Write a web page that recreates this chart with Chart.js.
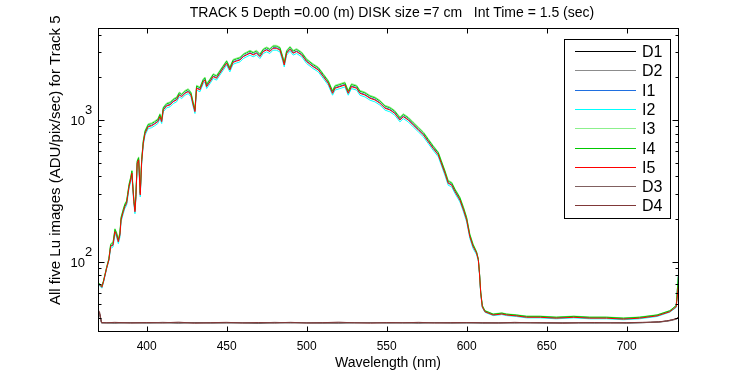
<!DOCTYPE html>
<html>
<head>
<meta charset="utf-8">
<script src="https://cdn.jsdelivr.net/npm/chart.js@4"></script>
<style>
  html, body { margin: 0; padding: 0; background: #fff; }
  #wrap { width: 750px; height: 375px; }
</style>
</head>
<body>
<div id="wrap"><canvas id="luChart" width="750" height="375"></canvas></div>
<script>
// wavelengths (nm) for the five light images
const wavelengths = [
  369.6, 371, 372, 373, 375, 376.4, 377.5, 379, 380.2, 381.2,
  382.3, 383.3, 384, 385.4, 386.4, 387.5, 388.1, 389, 390, 390.8,
  391.2, 392, 392.7, 393.3, 394.1, 395, 395.4, 396, 396.9, 397.9,
  399, 401, 403, 405, 407, 408.3, 409.4, 410.4, 412.5, 414.6,
  416.6, 418.7, 420.4, 421.9, 424, 426, 427.7, 429.1, 430.2, 431.2,
  433.3, 435.4, 436.4, 437.5, 439.6, 441.6, 443.7, 445.8, 447.9, 450,
  452, 454, 456, 458.3, 460.4, 462.5, 464.6, 466.6, 468.7, 470.8,
  472.9, 475, 477, 479, 481, 483.3, 485, 486, 487.5, 489.6,
  491.6, 493.7, 496.9, 500, 504, 507.3, 510.4, 513.5, 516.2, 517.7,
  520.8, 523.9, 526, 528, 531.3, 533.3, 536.4, 539.6, 542.7, 545.8,
  549, 552, 555, 558.3, 560.4, 563.5, 566.6, 569.8, 573, 576,
  579, 582.3, 584, 586.4, 588.5, 590.6, 592.7, 595.8, 598, 600,
  602, 604, 606.2, 607.3, 608, 608.8, 609.8, 611.4, 616.6, 622,
  625, 631, 637.5, 646, 656, 667, 677, 687.5, 698, 708,
  719, 727, 731, 732.3
];

const i1 = [
  70, 68, 66, 72, 90, 103, 129, 132, 165, 156,
  139, 156, 199, 227, 247, 261, 291, 341, 381, 425,
  361, 268, 227, 291, 499, 528, 425, 299, 513, 692,
  813, 906, 917, 946, 983, 1066, 983, 1189, 1269, 1289,
  1359, 1398, 1515, 1475, 1556, 1600, 1515, 1289, 1156, 1691,
  1646, 1881, 1934, 1735, 1881, 2043, 1989, 2159, 2341, 2537,
  2276, 2576, 2626, 2674, 2826, 2906, 2988, 2906, 2988, 2826,
  3067, 3151, 3067, 3237, 3237, 3151, 2727, 2467, 2988, 3189,
  2988, 3067, 2906, 2606, 2401, 2276, 2043, 1833, 1556, 1691,
  1735, 1783, 1556, 1735, 1691, 1556, 1515, 1436, 1398, 1325,
  1221, 1189, 1126, 1010, 1066, 1010, 931, 859, 792, 710,
  637, 572, 505, 425, 361, 351, 315, 275, 234, 199,
  152, 129, 116, 104, 84, 60, 48, 44.6, 42.3, 43,
  42.3, 41.7, 40.8, 40.8, 40.2, 40.8, 40.2, 40.2, 39.6, 40.2,
  41.7, 44.8, 49, 79
];

const i2 = [
  69, 67, 65, 71, 89, 102, 124, 127, 158, 149,
  134, 149, 191, 218, 238, 250, 279, 328, 366, 408,
  346, 257, 218, 279, 479, 507, 408, 287, 493, 664,
  781, 870, 881, 909, 944, 1023, 944, 1142, 1218, 1238,
  1306, 1342, 1455, 1416, 1495, 1536, 1455, 1238, 1111, 1624,
  1581, 1806, 1858, 1666, 1806, 1962, 1910, 2074, 2248, 2437,
  2185, 2474, 2522, 2569, 2714, 2791, 2869, 2791, 2869, 2714,
  2946, 3026, 2946, 3109, 3109, 3026, 2619, 2370, 2869, 3062,
  2869, 2946, 2791, 2503, 2306, 2185, 1962, 1761, 1495, 1624,
  1666, 1712, 1495, 1666, 1624, 1495, 1455, 1379, 1342, 1273,
  1173, 1142, 1082, 970, 1023, 970, 894, 825, 760, 682,
  612, 549, 485, 408, 346, 338, 303, 264, 225, 191,
  146, 124, 112, 101, 82, 59, 47.5, 43.9, 41.6, 42.3,
  41.6, 41, 40.1, 40.1, 39.5, 40.1, 39.5, 39.5, 38.9, 39.5,
  41, 44, 47.5, 72
];

const i3 = [
  71, 69, 67, 73, 92, 105, 134, 138, 171, 162,
  145, 162, 207, 236, 257, 271, 302, 355, 396, 442,
  375, 278, 236, 302, 519, 549, 442, 311, 533, 719,
  845, 942, 953, 984, 1022, 1108, 1022, 1236, 1319, 1340,
  1413, 1453, 1575, 1533, 1618, 1663, 1575, 1340, 1202, 1758,
  1712, 1955, 2011, 1804, 1955, 2124, 2067, 2245, 2434, 2638,
  2366, 2678, 2730, 2780, 2938, 3021, 3106, 3021, 3106, 2938,
  3189, 3276, 3189, 3365, 3365, 3276, 2835, 2565, 3106, 3315,
  3106, 3189, 3021, 2709, 2496, 2366, 2124, 1906, 1618, 1758,
  1804, 1853, 1618, 1804, 1758, 1618, 1575, 1493, 1453, 1378,
  1269, 1236, 1171, 1050, 1108, 1050, 968, 893, 823, 738,
  663, 594, 525, 442, 375, 365, 328, 286, 244, 207,
  157, 134, 118, 105, 85, 61, 49, 45.2, 42.8, 43.6,
  42.8, 42.2, 41.3, 41.3, 40.7, 41.3, 40.7, 40.7, 40.1, 40.7,
  42.2, 45.2, 49, 80
];

const i4 = [
  71, 69, 67, 73, 91, 105, 132, 136, 169, 159,
  143, 159, 204, 233, 254, 267, 298, 350, 390, 436,
  369, 274, 233, 298, 511, 541, 436, 306, 526, 709,
  833, 928, 940, 970, 1007, 1092, 1007, 1218, 1300, 1321,
  1393, 1432, 1553, 1511, 1595, 1639, 1553, 1321, 1185, 1733,
  1687, 1927, 1982, 1778, 1927, 2094, 2038, 2213, 2399, 2600,
  2332, 2639, 2691, 2741, 2896, 2978, 3062, 2978, 3062, 2896,
  3143, 3229, 3143, 3317, 3317, 3229, 2795, 2529, 3062, 3267,
  3062, 3143, 2978, 2670, 2460, 2332, 2094, 1879, 1595, 1733,
  1778, 1827, 1595, 1778, 1733, 1595, 1553, 1472, 1432, 1358,
  1251, 1218, 1154, 1035, 1092, 1035, 954, 880, 811, 728,
  653, 586, 518, 436, 369, 360, 323, 282, 240, 204,
  155, 132, 117, 104, 84, 61, 49, 45, 42.6, 43.3,
  42.6, 42, 41.1, 41.1, 40.5, 41.1, 40.5, 40.5, 39.9, 40.5,
  42, 45, 49, 78
];

const i5 = [
  70, 68, 66, 72, 90, 103, 128, 131, 163, 154,
  138, 154, 197, 225, 245, 258, 288, 338, 377, 421,
  357, 265, 225, 288, 494, 523, 421, 296, 508, 685,
  805, 897, 908, 937, 973, 1055, 973, 1177, 1256, 1276,
  1346, 1384, 1500, 1460, 1541, 1584, 1500, 1276, 1145, 1674,
  1630, 1862, 1915, 1718, 1862, 2023, 1969, 2138, 2318, 2512,
  2253, 2550, 2600, 2648, 2798, 2877, 2958, 2877, 2958, 2798,
  3037, 3120, 3037, 3205, 3205, 3120, 2700, 2443, 2958, 3157,
  2958, 3037, 2877, 2580, 2377, 2253, 2023, 1815, 1541, 1674,
  1718, 1765, 1541, 1718, 1674, 1541, 1500, 1422, 1384, 1312,
  1209, 1177, 1115, 1000, 1055, 1000, 922, 850, 784, 703,
  631, 566, 500, 421, 357, 348, 312, 272, 232, 197,
  150, 128, 115, 103, 83, 60, 48, 44.3, 42, 42.7,
  42, 41.4, 40.5, 40.5, 39.9, 40.5, 39.9, 39.9, 39.3, 39.9,
  41.4, 44.3, 48, 67
];

// wavelengths (nm) for the four dark images
const darkWavelengths = [
  369.6, 370.6, 371.8, 375, 380, 390, 400, 410, 420, 430,
  440, 450, 460, 470, 480, 490, 500, 510, 520, 530,
  540, 550, 560, 570, 580, 590, 600, 610, 620, 630,
  640, 650, 660, 670, 680, 690, 700, 710, 715, 720,
  725, 728, 731, 732.3
];

const d1 = [
  45, 43, 37.1, 37.0, 36.9, 37.2, 37.0, 37.1, 36.9, 37.2,
  37.0, 37.1, 37.0, 36.8, 37.1, 37.2, 37.0, 37.0, 36.9, 37.1,
  37.2, 37.0, 37.1, 36.9, 37.2, 37.0, 37.1, 36.9, 37.0, 37.1,
  37.1, 36.9, 37.0, 37.1, 37.0, 37.2, 36.9, 37.1, 37.3, 37.5,
  38.1, 38.7, 39.5, 40.3
];
const d2 = [
  44, 42, 36.8, 36.9, 37.1, 36.8, 37.0, 36.9, 37.1, 36.8,
  37.0, 36.9, 37.0, 37.1, 36.8, 36.9, 37.1, 36.8, 37.0, 36.9,
  37.0, 37.1, 36.8, 37.0, 36.9, 37.0, 36.8, 37.1, 36.9, 37.0,
  36.9, 37.1, 36.9, 36.8, 37.0, 36.9, 37.0, 37.1, 37.2, 37.4,
  37.9, 38.4, 39.2, 40.0
];
const d3 = [
  45, 43, 37.0, 37.2, 37.0, 37.1, 36.9, 37.3, 37.0, 37.1,
  36.9, 37.0, 37.2, 36.9, 37.3, 37.0, 37.1, 36.9, 37.0, 37.2,
  37.1, 36.9, 37.2, 37.0, 37.1, 36.9, 37.0, 37.2, 37.1, 36.9,
  37.2, 37.0, 37.1, 37.2, 36.9, 37.1, 37.0, 37.2, 37.3, 37.5,
  38.0, 38.6, 39.4, 40.2
];
const d4 = [
  46, 44, 37.2, 37.0, 37.3, 36.9, 37.2, 37.0, 37.4, 36.8,
  37.1, 37.3, 36.9, 37.2, 37.0, 37.3, 36.9, 37.1, 37.4, 37.0,
  36.8, 37.2, 37.0, 37.3, 36.9, 37.1, 37.2, 37.0, 36.9, 37.3,
  37.0, 37.1, 36.8, 37.0, 37.2, 36.9, 37.1, 37.3, 37.4, 37.6,
  38.2, 38.8, 39.6, 40.5
];

const seriesLabels = ['D1', 'D2', 'I1', 'I2', 'I3', 'I4', 'I5', 'D3', 'D4'];
const xTickValues = [400, 450, 500, 550, 600, 650, 700];
const yMajorTicks = [100, 1000];
const yMinorTicks = [40, 50, 60, 70, 80, 90, 200, 300, 400, 500, 600, 700, 800, 900, 2000, 3000, 4000];

const titleText = 'TRACK 5 Depth =0.00 (m) DISK size =7 cm   Int Time = 1.5 (sec)';
const xTitle = 'Wavelength (nm)';
const yTitle = 'All five Lu images (ADU/pix/sec) for Track 5';

const lineColors = ['#000000', '#8c8c8c', '#1f6fe0', '#00ffff', '#8cf08c', '#00c800', '#ff0000', '#806060', '#803838'];
const FONT = '"Liberation Sans", Arial, sans-serif';

function toPoints(xs, ys) {
  return xs.map((x, i) => ({ x: x, y: ys[i] }));
}

const seriesData = [
  toPoints(darkWavelengths, d1),
  toPoints(darkWavelengths, d2),
  toPoints(wavelengths, i1),
  toPoints(wavelengths, i2),
  toPoints(wavelengths, i3),
  toPoints(wavelengths, i4),
  toPoints(wavelengths, i5),
  toPoints(darkWavelengths, d3),
  toPoints(darkWavelengths, d4),
];

// later series drawn on top, like matlab's plot order
const datasets = seriesLabels.map((label, i) => ({
  label: label,
  data: seriesData[i],
  borderColor: lineColors[i],
  backgroundColor: lineColors[i],
  borderWidth: 1,
  pointRadius: 0,
  tension: 0,
  order: seriesLabels.length - i,
}));

// box, inward ticks, tick labels, titles, legend
const matlabAxes = {
  id: 'matlabAxes',
  afterDraw(chart) {
    const { ctx, chartArea: a } = chart;
    const xs = chart.scales.x, ys = chart.scales.y;
    const L = Math.floor(a.left) + 0.5, R = Math.floor(a.right) + 0.5;
    const T = Math.floor(a.top) + 0.5, B = Math.floor(a.bottom) + 0.5;
    ctx.save();
    ctx.strokeStyle = '#000';
    ctx.lineWidth = 1;
    ctx.strokeRect(L, T, R - L, B - T);

    ctx.beginPath();
    xTickValues.forEach(v => {
      const px = Math.round(xs.getPixelForValue(v)) + 0.5;
      ctx.moveTo(px, B); ctx.lineTo(px, B - 5);
      ctx.moveTo(px, T); ctx.lineTo(px, T + 5);
    });
    yMajorTicks.forEach(v => {
      const py = Math.round(ys.getPixelForValue(v)) + 0.5;
      ctx.moveTo(L, py); ctx.lineTo(L + 6, py);
      ctx.moveTo(R, py); ctx.lineTo(R - 6, py);
    });
    yMinorTicks.forEach(v => {
      const py = Math.round(ys.getPixelForValue(v)) + 0.5;
      ctx.moveTo(L, py); ctx.lineTo(L + 3, py);
      ctx.moveTo(R, py); ctx.lineTo(R - 3, py);
    });
    ctx.stroke();

    ctx.fillStyle = '#000';
    ctx.font = '12px ' + FONT;
    ctx.textAlign = 'center';
    ctx.textBaseline = 'alphabetic';
    xTickValues.forEach(v => {
      ctx.fillText(String(v), xs.getPixelForValue(v), 350);
    });

    yMajorTicks.forEach(v => {
      const py = ys.getPixelForValue(v);
      const exp = String(Math.round(Math.log10(v)));
      ctx.font = '13px ' + FONT;
      ctx.textAlign = 'right';
      ctx.fillText('10', 85, py + 5);
      ctx.textAlign = 'left';
      ctx.fillText(exp, 85, py - 6);
    });

    ctx.font = '14px ' + FONT;
    ctx.textAlign = 'center';
    ctx.fillText(xTitle, (a.left + a.right) / 2, 367);
    ctx.fillText(titleText, 392, 17);

    ctx.save();
    ctx.translate(60, 305);
    ctx.rotate(-Math.PI / 2);
    ctx.textAlign = 'left';
    ctx.font = '15px ' + FONT;
    ctx.fillText(yTitle, 0, 0);
    ctx.restore();

    // legend box
    ctx.fillStyle = '#fff';
    ctx.fillRect(564.5, 39.5, 106, 179);
    ctx.strokeStyle = '#000';
    ctx.strokeRect(564.5, 39.5, 106, 179);
    ctx.font = '16px ' + FONT;
    ctx.textAlign = 'left';
    ctx.textBaseline = 'middle';
    seriesLabels.forEach((label, i) => {
      const ly = Math.round(51 + i * 19.3) + 0.5;
      ctx.strokeStyle = lineColors[i];
      ctx.beginPath();
      ctx.moveTo(575, ly);
      ctx.lineTo(636, ly);
      ctx.stroke();
      ctx.fillStyle = '#000';
      ctx.fillText(label, 642, ly + 1);
    });
    ctx.restore();
  }
};

const luConfig = {
  type: 'line',
  data: { datasets: datasets },
  options: {
    responsive: false,
    animation: false,
    layout: { padding: { left: 98, right: 72, top: 28, bottom: 44 } },
    scales: {
      x: { type: 'linear', min: 369.6, max: 732.1, display: false },
      y: { type: 'logarithmic', min: 32.4, max: 4457, display: false }
    },
    plugins: {
      legend: { display: false },
      tooltip: { enabled: false }
    }
  },
  plugins: [matlabAxes]
};

const luChart = new Chart(document.getElementById('luChart'), luConfig);
</script>
</body>
</html>
